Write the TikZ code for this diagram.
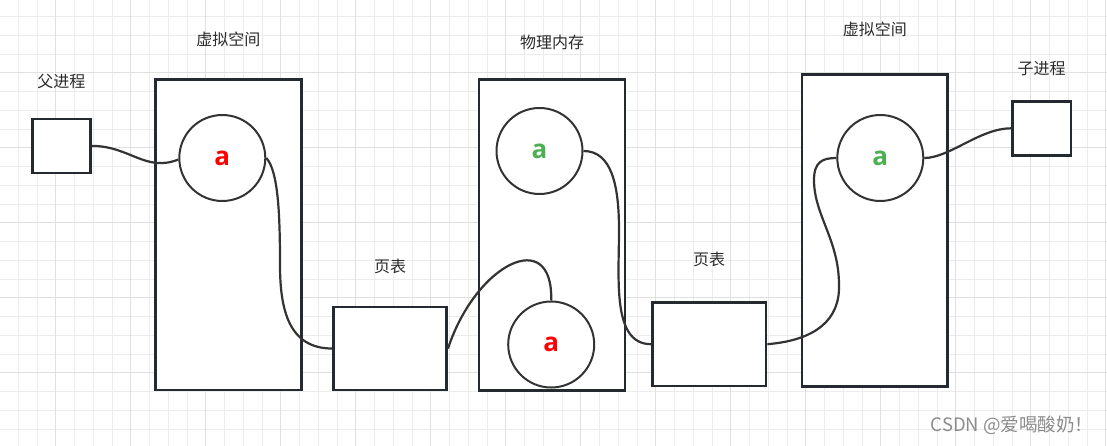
\documentclass[tikz,border=0pt]{standalone}
\usepackage{fontspec}
\newfontfamily\cjk{Noto Sans CJK SC}
\newfontfamily\letterfont{Open Sans}
\usetikzlibrary{positioning}
\definecolor{framecol}{HTML}{242A30}
\definecolor{linecol}{HTML}{333333}
\definecolor{textcol}{HTML}{2B2B2B}
\definecolor{gridminor}{HTML}{ECECEC}
\definecolor{gridmajor}{HTML}{E0E0E0}
\definecolor{agreen}{HTML}{4CAF50}
\definecolor{markgray}{HTML}{8C8C8C}
\tikzset{memory frame/.style={draw=framecol, fill=white, rectangle, line width=2.6pt, inner sep=0pt},
  page entry/.style={draw=linecol, fill=white, circle, line width=2pt, minimum size=86pt, inner sep=0pt,
    font=\letterfont\bfseries\fontsize{26}{26}\selectfont},
  caption/.style={text=textcol, font=\cjk\fontsize{16}{16}\selectfont},
  link/.style={draw=linecol, line width=2.2pt},
  grid minor/.style={draw=gridminor, line width=1pt},
  grid major/.style={draw=gridmajor, line width=1pt}}

\begin{document}
\begin{tikzpicture}[x=1pt, y=-1pt]
\useasboundingbox (0,0) rectangle (1107,446);
\fill[white] (0,0) rectangle (1107,446);
% grid
\foreach \i in {0,...,58} \draw[grid minor] ({18.3+18.75*\i},0) -- ({18.3+18.75*\i},446);
\foreach \j in {0,...,22} \draw[grid minor] (0,{16.7+18.75*\j}) -- (1107,{16.7+18.75*\j});
\foreach \i in {2,6,...,58} \draw[grid major] ({18.3+18.75*\i},0) -- ({18.3+18.75*\i},446);
\foreach \j in {3,7,...,19} \draw[grid major] (0,{16.7+18.75*\j}) -- (1107,{16.7+18.75*\j});
% boxes
\node[memory frame, minimum width=58pt, minimum height=54pt] (parent) at (61.4,145.9) {};
\node[memory frame, minimum width=146pt, minimum height=310.5pt] (vs1) at (228.4,234.9) {};
\node[memory frame, minimum width=113.4pt, minimum height=83pt] (pt1) at (390,348.5) {};
\node[memory frame, minimum width=146pt, minimum height=311pt] (pm) at (552,235) {};
\node[memory frame, minimum width=113.7pt, minimum height=83.7pt] (pt2) at (709.2,344.2) {};
\node[memory frame, minimum width=145.7pt, minimum height=311.6pt] (vs2) at (874.9,230.4) {};
\node[memory frame, minimum width=58.7pt, minimum height=54pt] (child) at (1041.7,128.3) {};
% labels
\node[caption, above of=parent, node distance=64pt] (parent label) {父进程};
\node[caption, above of=vs1, node distance=196pt] (vs1 label) {虚拟空间};
\node[caption, above of=pt1, node distance=82.5pt] (pt1 label) {页表};
\node[caption, above of=pm, node distance=193pt] (pm label) {物理内存};
\node[caption, above of=pt2, node distance=85pt] (pt2 label) {页表};
\node[caption, above of=vs2, node distance=201pt] (vs2 label) {虚拟空间};
\node[caption, above of=child, node distance=60pt] (child label) {子进程};
% pages
\node[page entry, text=red] (ca1) at (222.3,158) {a};
\node[page entry, text=agreen] (cg1) at (539.5,151) {a};
\node[page entry, text=red] (cr2) at (551.2,344.5) {a};
\node[page entry, text=agreen] (cg2) at (880.3,158) {a};
% bends
\coordinate (bendA) at (280,265);
\coordinate (bendB) at (619,230);
\coordinate (bendC) at (839,285);
\coordinate (bendD) at (814,180);
% links
\draw[link] (parent.east) .. controls +(38,0) and +(-33,13) .. (ca1.182);
\draw[link] (ca1.east) .. controls +(12,13) and +(0,-50) .. (bendA) .. controls +(0,45) and +(-43,0) .. (pt1.west);
\draw[link] (pt1.east) .. controls +(28,-85) and +(2,-75) .. (cr2.north);
\draw[link] (cg1.east) .. controls +(28,0) and +(0,-45) .. (bendB) .. controls +(0,50) and +(-39,0) .. (pt2.west);
\draw[link] (pt2.east) .. controls +(48,-4) and +(1,35) .. (bendC) .. controls +(0,-45) and +(0,35) .. (bendD) .. controls +(0,-18) and +(-14,0) .. (cg2.west);
\draw[link] (cg2.east) .. controls +(25,0) and +(-31,0) .. (child.west);
% watermark
\node[text=markgray, font=\cjk\fontsize{18.5}{18.5}\selectfont] (mark) at (1012,425) {CSDN @爱喝酸奶！};
\end{tikzpicture}
\end{document}
